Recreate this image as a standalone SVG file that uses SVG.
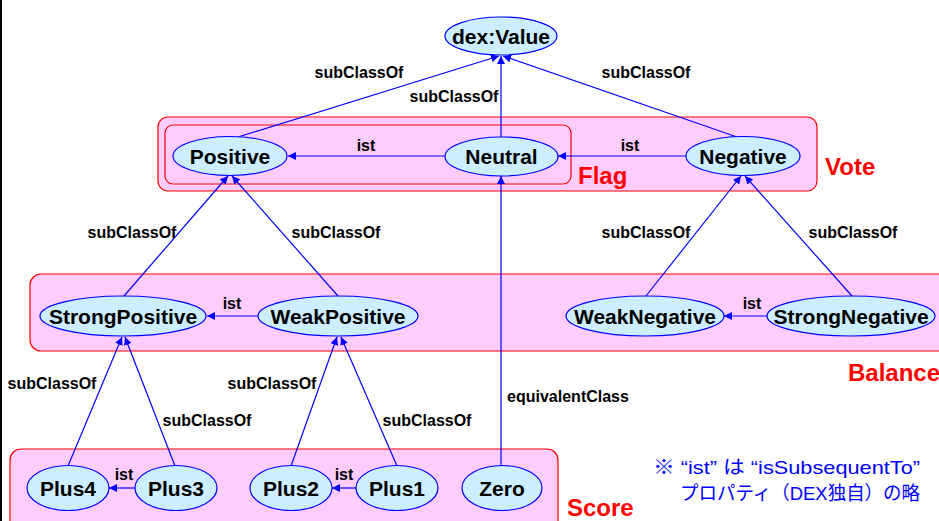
<svg xmlns="http://www.w3.org/2000/svg" width="939" height="521" viewBox="0 0 939 521">
<defs>
<style>
.grp{fill:#ffccff;stroke:#ff0000;stroke-width:1.2}
.nd{fill:#cceeff;stroke:#0000ff;stroke-width:1.2}
.nt{font-family:"Liberation Sans",Arial,sans-serif;font-weight:bold;font-size:21px;fill:#000;text-anchor:middle}
.el{font-family:"Liberation Sans",Arial,sans-serif;font-weight:bold;font-size:16px;fill:#000;text-anchor:middle}
.gl{font-family:"Liberation Sans",Arial,sans-serif;font-weight:bold;font-size:24px;fill:#ff0000}
.e{stroke:#0000ff;stroke-width:1.2;fill:none;marker-end:url(#ah)}
.note{font-family:"Liberation Sans","Noto Sans CJK JP",sans-serif;font-size:19px;fill:#0000ff}
</style>
<marker id="ah" viewBox="0 0 10 10" refX="10" refY="5" markerWidth="8" markerHeight="8" markerUnits="userSpaceOnUse" orient="auto">
<path d="M0,0 L10,5 L0,10 z" fill="#0000ff"/>
</marker>
</defs>
<rect x="0" y="0" width="939" height="521" fill="#fff"/>
<rect x="0" y="0" width="2" height="521" fill="#000"/>

<g id="groups">
<rect id="vote" class="grp" x="158" y="117" width="659" height="74" rx="10"/>
<rect id="flag" class="grp" x="165" y="125" width="406" height="59" rx="8"/>
<rect id="balance" class="grp" x="30" y="274" width="920" height="77" rx="11"/>
<rect id="score" class="grp" x="10" y="449" width="548" height="90" rx="11"/>
<text class="gl" x="825" y="175">Vote</text>
<text class="gl" x="578" y="184">Flag</text>
<text class="gl" x="848" y="381">Balance</text>
<text class="gl" x="567" y="516">Score</text>
</g>

<g id="connectors">
<line class="e" x1="238" y1="137" x2="499" y2="56"/>
<line class="e" x1="501" y1="137" x2="501" y2="56"/>
<line class="e" x1="737" y1="137" x2="503" y2="56"/>
<line class="e" x1="445" y1="156" x2="288" y2="156"/>
<line class="e" x1="686" y1="156" x2="558" y2="156"/>
<line class="e" x1="124" y1="296" x2="228" y2="176"/>
<line class="e" x1="338" y1="296" x2="232" y2="176"/>
<line class="e" x1="646" y1="296" x2="741" y2="176"/>
<line class="e" x1="852" y1="296" x2="745" y2="176"/>
<line class="e" x1="258" y1="316" x2="207" y2="316"/>
<line class="e" x1="767" y1="316" x2="724" y2="316"/>
<line class="e" x1="68" y1="466" x2="122" y2="337"/>
<line class="e" x1="175" y1="466" x2="125" y2="337"/>
<line class="e" x1="291" y1="466" x2="337" y2="337"/>
<line class="e" x1="397" y1="466" x2="341" y2="337"/>
<line class="e" x1="135" y1="488" x2="109" y2="488"/>
<line class="e" x1="356" y1="488" x2="332" y2="488"/>
<line class="e" x1="501" y1="466" x2="501" y2="176"/>
<text class="el" x="359" y="78">subClassOf</text>
<text class="el" x="454" y="102">subClassOf</text>
<text class="el" x="646" y="78">subClassOf</text>
<text class="el" x="366" y="151">ist</text>
<text class="el" x="630" y="151">ist</text>
<text class="el" x="132" y="238">subClassOf</text>
<text class="el" x="336" y="238">subClassOf</text>
<text class="el" x="646" y="238">subClassOf</text>
<text class="el" x="853" y="238">subClassOf</text>
<text class="el" x="232" y="309">ist</text>
<text class="el" x="752" y="309">ist</text>
<text class="el" x="52" y="389">subClassOf</text>
<text class="el" x="207" y="426">subClassOf</text>
<text class="el" x="272" y="389">subClassOf</text>
<text class="el" x="427" y="426">subClassOf</text>
<text class="el" x="568" y="402">equivalentClass</text>
<text class="el" x="124" y="480">ist</text>
<text class="el" x="344" y="480">ist</text>
</g>

<g id="dexValue"><ellipse class="nd" cx="501" cy="36" rx="56" ry="19"/><text class="nt" x="501" y="44">dex:Value</text></g>
<g id="positive"><ellipse class="nd" cx="230" cy="156" rx="57" ry="19.5"/><text class="nt" x="230" y="164">Positive</text></g>
<g id="neutral"><ellipse class="nd" cx="501.5" cy="156.5" rx="56.5" ry="19.5"/><text class="nt" x="501.5" y="164">Neutral</text></g>
<g id="negative"><ellipse class="nd" cx="743" cy="156" rx="57" ry="19.5"/><text class="nt" x="743" y="164">Negative</text></g>
<g id="strongPositive"><ellipse class="nd" cx="123" cy="316" rx="83" ry="20"/><text class="nt" x="123" y="324">StrongPositive</text></g>
<g id="weakPositive"><ellipse class="nd" cx="338" cy="316" rx="80" ry="20"/><text class="nt" x="338" y="324">WeakPositive</text></g>
<g id="weakNegative"><ellipse class="nd" cx="645" cy="316" rx="79" ry="20"/><text class="nt" x="645" y="324">WeakNegative</text></g>
<g id="strongNegative"><ellipse class="nd" cx="851" cy="316" rx="84" ry="20"/><text class="nt" x="851" y="324">StrongNegative</text></g>
<g id="plus4"><ellipse class="nd" cx="68" cy="488" rx="41" ry="22.5"/><text class="nt" x="68" y="496">Plus4</text></g>
<g id="plus3"><ellipse class="nd" cx="176" cy="488" rx="41" ry="22.5"/><text class="nt" x="176" y="496">Plus3</text></g>
<g id="plus2"><ellipse class="nd" cx="291" cy="488" rx="41" ry="22.5"/><text class="nt" x="291" y="496">Plus2</text></g>
<g id="plus1"><ellipse class="nd" cx="397" cy="488" rx="41" ry="22.5"/><text class="nt" x="397" y="496">Plus1</text></g>
<g id="zero"><ellipse class="nd" cx="502" cy="488" rx="40" ry="22.5"/><text class="nt" x="502" y="496">Zero</text></g>

<g id="note">
<text class="note" x="653" y="474" textLength="267" lengthAdjust="spacingAndGlyphs">※ “ist” は “isSubsequentTo”</text>
<text class="note" x="680" y="500" textLength="240" lengthAdjust="spacingAndGlyphs">プロパティ（DEX独自）の略</text>
</g>
</svg>
